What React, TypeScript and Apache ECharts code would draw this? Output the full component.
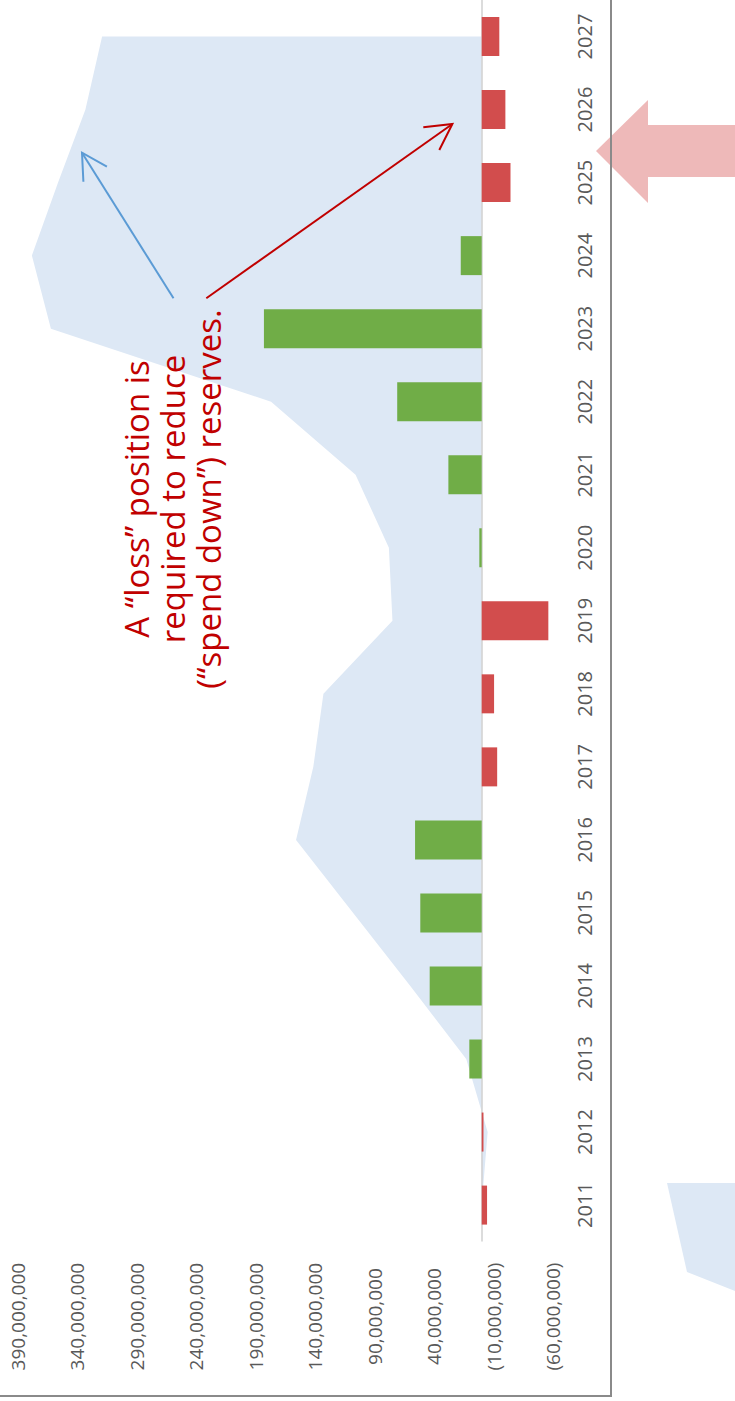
import React, { useEffect, useRef } from 'react';
import * as echarts from 'echarts';

const categories = ['2011', '2012', '2013', '2014', '2015', '2016', '2017', '2018', '2019', '2020', '2021', '2022', '2023', '2024', '2025', '2026', '2027'];

// Net annual surplus (+) / loss (-)
const netFlow = [-4500000, -1500000, 10400000, 43700000, 51600000, 56000000, -13000000, -10400000, -56000000, 2000000, 28000000, 71000000, 183000000, 17600000, -24200000, -19900000, -14800000];

// Reserve balance (shaded area)
const reserveBalance = [0, -5000000, 13000000, 60000000, 108000000, 156000000, 141500000, 133000000, 75000000, 78000000, 106000000, 177000000, 362000000, 378000000, 356000000, 333000000, 319000000];

const axisMin = -60000000;
const axisMax = 390000000;
const axisStep = 50000000;

const annotationLines = ['A \u201Closs\u201D position is', 'required to reduce', '(\u201Cspend down\u201D) reserves.'];

const FONT = '"Open Sans", "Liberation Sans", sans-serif';

function fmt(v: number): string {
  const s = Math.abs(v).toLocaleString('en-US');
  return v < 0 ? '(' + s + ')' : s;
}

export default function App() {
  const ref = useRef<HTMLDivElement>(null);
  useEffect(() => {
    const chart = echarts.init(ref.current!, null, { renderer: 'svg' });
    chart.setOption({
      animation: false,
      backgroundColor: '#ffffff',
      grid: { left: 17.6, right: 181.9, top: -1.5, bottom: 159.4, containLabel: false },
      xAxis: {
        type: 'value',
        inverse: true,
        min: axisMin,
        max: axisMax,
        interval: axisStep,
        position: 'bottom',
        axisLine: { show: false },
        axisTick: { show: false },
        splitLine: { show: false },
        axisLabel: {
          rotate: 90,
          align: 'center',
          verticalAlign: 'middle',
          margin: 75,
          color: '#595959',
          fontSize: 19,
          fontFamily: FONT,
          formatter: (v: number) => fmt(v),
        },
      },
      yAxis: {
        type: 'category',
        data: categories,
        position: 'right',
        axisLine: { show: false },
        axisTick: { show: false },
        splitLine: { show: false },
        axisLabel: {
          rotate: 90,
          align: 'center',
          verticalAlign: 'middle',
          margin: 31,
          color: '#595959',
          fontSize: 20,
          fontFamily: FONT,
        },
      },
      series: [
        {
          type: 'line',
          data: reserveBalance,
          symbol: 'none',
          lineStyle: { width: 0, color: '#DDE8F5' },
          areaStyle: { color: '#DDE8F5', opacity: 1 },
          z: 1,
          silent: true,
        },
        {
          type: 'bar',
          data: netFlow,
          barWidth: 39,
          z: 3,
          itemStyle: {
            color: (p: any) => (p.value >= 0 ? '#70AD47' : '#D24D4D'),
          },
          markLine: {
            silent: true,
            symbol: 'none',
            label: { show: false },
            lineStyle: { color: '#D0D0D0', width: 1.5, type: 'solid' },
            data: [{ xAxis: 0 }],
            z: 2,
          },
        },
      ],
      graphic: [
        {
          type: 'polygon',
          z: 5,
          shape: { points: [[596, 151], [648, 100], [648, 125], [735, 125], [735, 177], [648, 177], [648, 203]] },
          style: { fill: '#E28A8A', opacity: 0.6 },
        },
        {
          type: 'polygon',
          z: 5,
          shape: { points: [[667, 1183], [735, 1183], [735, 1291], [687, 1272]] },
          style: { fill: '#DDE8F5' },
        },
        {
          type: 'line',
          z: 6,
          shape: { x1: 611, y1: 0, x2: 611, y2: 1396 },
          style: { stroke: '#8A8A8A', lineWidth: 2 },
        },
        {
          type: 'line',
          z: 6,
          shape: { x1: 0, y1: 1396, x2: 612, y2: 1396 },
          style: { stroke: '#8A8A8A', lineWidth: 2 },
        },
        {
          type: 'line',
          z: 10,
          shape: { x1: 173.5, y1: 298.3, x2: 82, y2: 152.7 },
          style: { stroke: '#5B9BD5', lineWidth: 2 },
        },
        {
          type: 'polyline',
          z: 10,
          shape: { points: [[83.4, 181.7], [82, 152.7], [106.9, 166.7]] },
          style: { stroke: '#5B9BD5', lineWidth: 2, fill: 'none' },
        },
        {
          type: 'line',
          z: 10,
          shape: { x1: 206.3, y1: 298.3, x2: 452.4, y2: 124 },
          style: { stroke: '#C00000', lineWidth: 2 },
        },
        {
          type: 'polyline',
          z: 10,
          shape: { points: [[423.3, 127.3], [452.4, 124], [439.3, 150]] },
          style: { stroke: '#C00000', lineWidth: 2, fill: 'none' },
        },
        {
          type: 'text',
          z: 10,
          x: 172,
          y: 499,
          rotation: Math.PI / 2,
          style: {
            text: annotationLines.join('\n'),
            fill: '#C00000',
            fontSize: 33,
            fontFamily: FONT,
            lineHeight: 36,
            align: 'center',
            verticalAlign: 'middle',
            textAlign: 'center',
            textVerticalAlign: 'middle',
          },
        },
      ],
    });
    return () => chart.dispose();
  }, []);
  return <div ref={ref} style={{ position: 'absolute', left: 0, top: 0, width: 735, height: 1401 }} />;
}
